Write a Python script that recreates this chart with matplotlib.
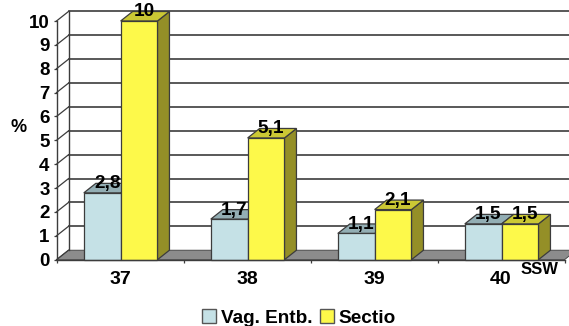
import matplotlib
matplotlib.use("Agg")
import matplotlib.pyplot as plt
from matplotlib.patches import Patch, Polygon

plt.rcParams["font.family"] = ["Liberation Sans", "DejaVu Sans"]
plt.rcParams["font.weight"] = "bold"
plt.rcParams["axes.labelweight"] = "bold"

W, H = 569, 326

weeks = ["37", "38", "39", "40"]
vag = [2.8, 1.7, 1.1, 1.5]
sectio = [10, 5.1, 2.1, 1.5]
vag_labels = ["2,8", "1,7", "1,1", "1,5"]
sectio_labels = ["10", "5,1", "2,1", "1,5"]

# front plane of the fake 3d box, in pixels
LEFT, RIGHT = 56.5, 564.5
BASE, TOP = 259.7, 21.0
DX = 12 / ((RIGHT - LEFT) / 4)
DY = 9.5 / ((BASE - TOP) / 10)
BAR_W = 0.29
LINE = "#3c3c3c"

VAG_COLS = ("#c5e1e6", "#93aeb4", "#7d969b")
SEC_COLS = ("#fdf94a", "#cbc834", "#948f27")

fig = plt.figure(figsize=(W / 100, H / 100), dpi=100)
ax = fig.add_axes([LEFT / W, 1 - BASE / H, (RIGHT - LEFT) / W, (BASE - TOP) / H])
ax.set_xlim(0, 4)
ax.set_ylim(0, 10)
ax.patch.set_visible(False)
for s in ["top", "right"]:
    ax.spines[s].set_visible(False)
for s in ["left", "bottom"]:
    ax.spines[s].set_color(LINE)
    ax.spines[s].set_linewidth(1.0)
    ax.spines[s].set_zorder(6)


def poly(pts, color, z):
    ax.add_patch(Polygon(pts, closed=True, facecolor=color, edgecolor=LINE,
                         linewidth=0.9, clip_on=False, zorder=z))


def bar3d(x0, val, cols, z):
    x1 = x0 + BAR_W
    poly([(x1, 0), (x1 + DX, DY), (x1 + DX, val + DY), (x1, val)], cols[2], z)
    poly([(x0, val), (x0 + DX, val + DY), (x1 + DX, val + DY), (x1, val)], cols[1], z)
    poly([(x0, 0), (x1, 0), (x1, val), (x0, val)], cols[0], z + 0.1)


# floor and back wall
ax.add_patch(Polygon([(0, 0), (DX, DY), (4 + DX, DY), (4, 0)], closed=True,
                     facecolor="#8c8c8c", edgecolor=LINE, linewidth=0.6,
                     clip_on=False, zorder=1))
for v in range(1, 11):
    ax.plot([DX, 4 + DX], [v + DY, v + DY], color=LINE, lw=1.2, clip_on=False, zorder=1)
for v in range(0, 11):
    ax.plot([0, DX], [v, v + DY], color=LINE, lw=0.9, clip_on=False, zorder=1)
ax.plot([DX, DX], [DY, 10 + DY], color=LINE, lw=1.0, clip_on=False, zorder=1)

for i in range(4):
    x0 = i + 0.5 - BAR_W + 0.005
    z = 2 + i
    bar3d(x0, vag[i], VAG_COLS, z)
    bar3d(x0 + BAR_W, sectio[i], SEC_COLS, z + 0.3)
    ax.annotate(vag_labels[i], (x0 + BAR_W / 2, vag[i]), xytext=(5, 9),
                textcoords="offset pixels", ha="center", va="center",
                fontsize=13.7, color="black", zorder=8, annotation_clip=False)
    ax.annotate(sectio_labels[i], (x0 + BAR_W * 1.5, sectio[i]), xytext=(5, 9),
                textcoords="offset pixels", ha="center", va="center",
                fontsize=13.7, color="black", zorder=8, annotation_clip=False)

ax.set_yticks(range(0, 11))
ax.tick_params(axis="y", labelsize=13.5, length=2.5, width=0.9, color=LINE, pad=2.5)
ax.set_xticks([0, 1, 2, 3, 4])
ax.set_xticklabels([])
ax.set_xticks([0.5, 1.5, 2.5, 3.5], labels=weeks, minor=True)
ax.tick_params(axis="x", which="major", length=2.5, width=0.9, color=LINE)
ax.tick_params(axis="x", which="minor", length=0, labelsize=14, pad=8)

ax.set_ylabel("%", rotation=0, fontsize=13, va="center", ha="center")
ax.yaxis.set_label_coords((19 - LEFT) / (RIGHT - LEFT), (BASE - 128) / (BASE - TOP))
ax.set_xlabel("SSW", fontsize=12, va="center", ha="center")
ax.xaxis.set_label_coords((540 - LEFT) / (RIGHT - LEFT), (BASE - 270) / (BASE - TOP))

handles = [Patch(facecolor=VAG_COLS[0], edgecolor="#555555", label="Vag. Entb."),
           Patch(facecolor=SEC_COLS[0], edgecolor="#555555", label="Sectio")]
fig.legend(handles=handles, ncol=2, loc="center", bbox_to_anchor=(299 / W, 1 - 318 / H),
           frameon=False, fontsize=13.7, handlelength=0.72, handleheight=0.72,
           handletextpad=0.25, columnspacing=0.4, borderpad=0, borderaxespad=0)

fig.savefig("out.png", dpi=100)
